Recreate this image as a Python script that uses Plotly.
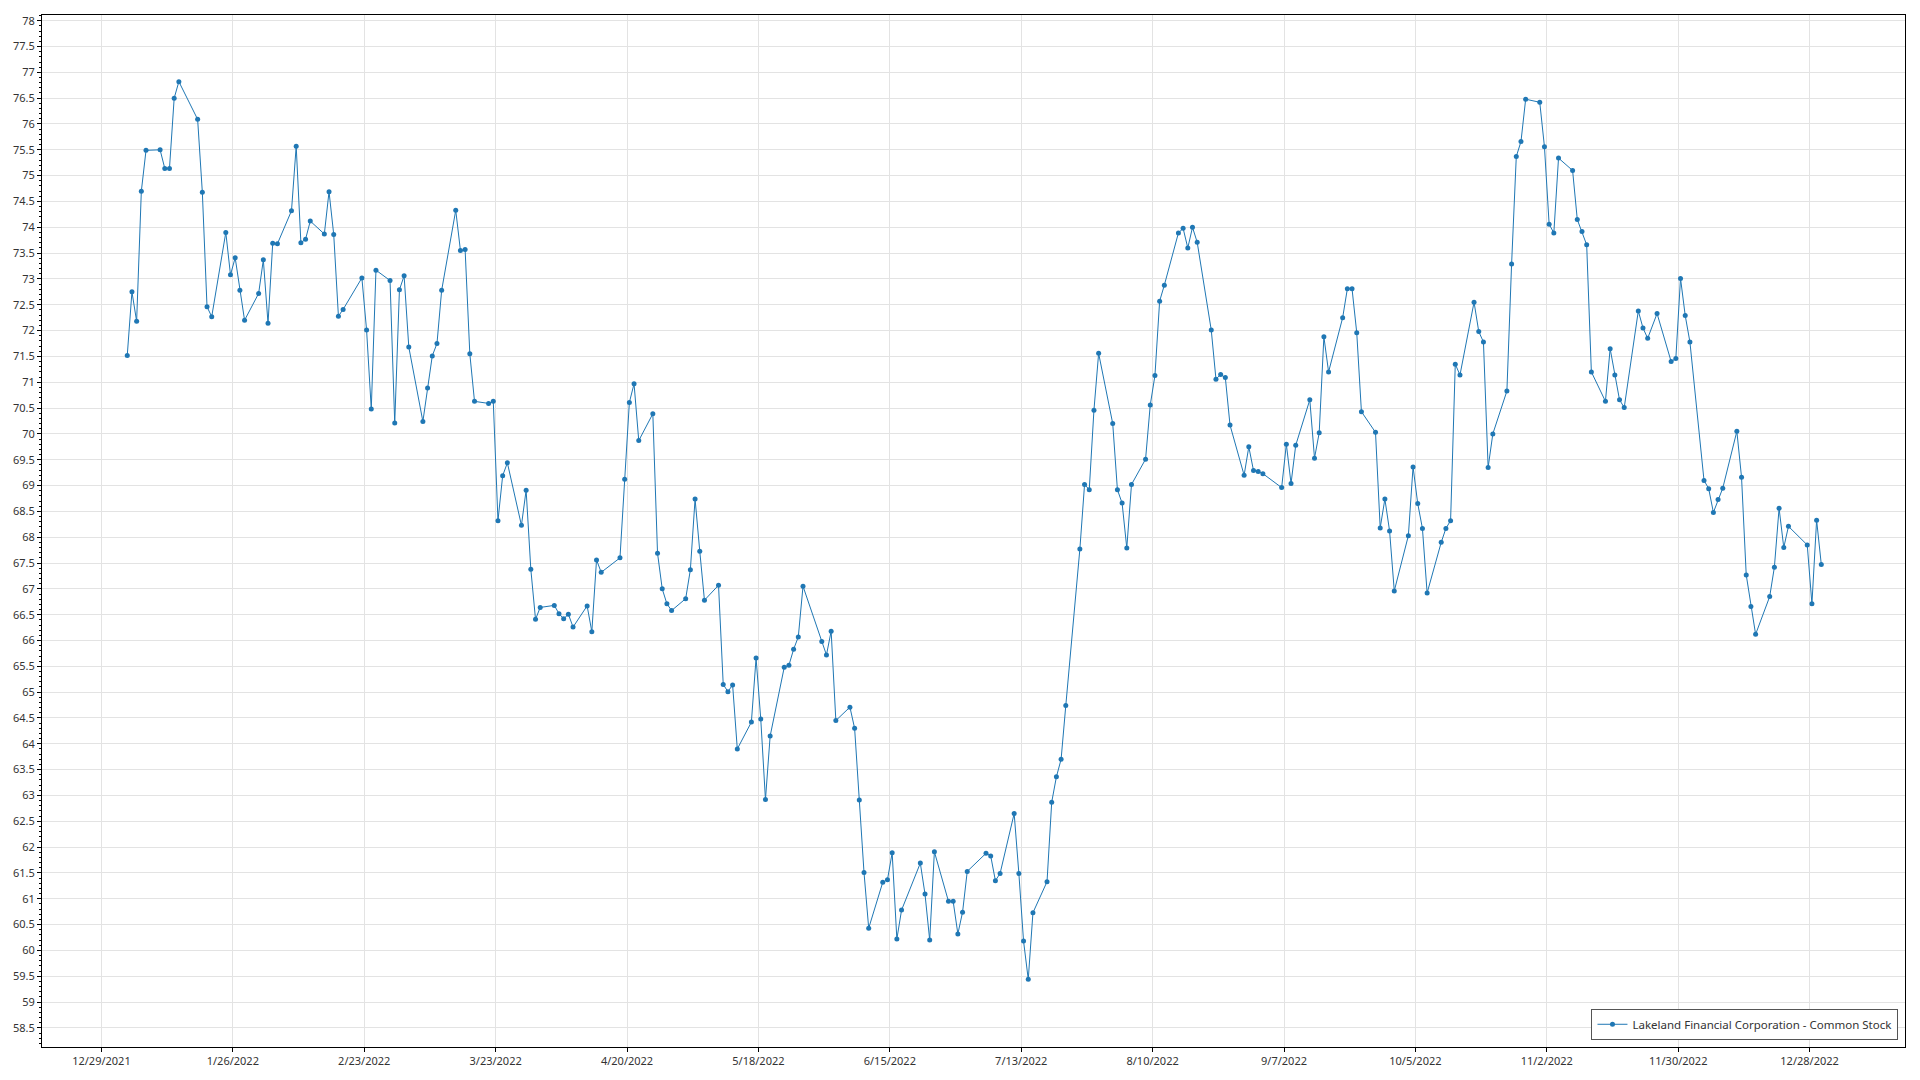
import plotly.graph_objects as go
import pandas as pd

series_name = "Lakeland Financial Corporation - Common Stock"

dates = [
    "2022-01-03","2022-01-04","2022-01-05","2022-01-06","2022-01-07",
    "2022-01-10","2022-01-11","2022-01-12","2022-01-13","2022-01-14",
    "2022-01-18","2022-01-19","2022-01-20","2022-01-21",
    "2022-01-24","2022-01-25","2022-01-26","2022-01-27","2022-01-28",
    "2022-01-31","2022-02-01","2022-02-02","2022-02-03","2022-02-04",
    "2022-02-07","2022-02-08","2022-02-09","2022-02-10","2022-02-11",
    "2022-02-14","2022-02-15","2022-02-16","2022-02-17","2022-02-18",
    "2022-02-22","2022-02-23","2022-02-24","2022-02-25",
    "2022-02-28","2022-03-01","2022-03-02","2022-03-03","2022-03-04",
    "2022-03-07","2022-03-08","2022-03-09","2022-03-10","2022-03-11",
    "2022-03-14","2022-03-15","2022-03-16","2022-03-17","2022-03-18",
    "2022-03-21","2022-03-22","2022-03-23","2022-03-24","2022-03-25",
    "2022-03-28","2022-03-29","2022-03-30","2022-03-31","2022-04-01",
    "2022-04-04","2022-04-05","2022-04-06","2022-04-07","2022-04-08",
    "2022-04-11","2022-04-12","2022-04-13","2022-04-14",
    "2022-04-18","2022-04-19","2022-04-20","2022-04-21","2022-04-22",
    "2022-04-25","2022-04-26","2022-04-27","2022-04-28","2022-04-29",
    "2022-05-02","2022-05-03","2022-05-04","2022-05-05","2022-05-06",
    "2022-05-09","2022-05-10","2022-05-11","2022-05-12","2022-05-13",
    "2022-05-16","2022-05-17","2022-05-18","2022-05-19","2022-05-20",
    "2022-05-23","2022-05-24","2022-05-25","2022-05-26","2022-05-27",
    "2022-05-31","2022-06-01","2022-06-02","2022-06-03",
    "2022-06-06","2022-06-07","2022-06-08","2022-06-09","2022-06-10",
    "2022-06-13","2022-06-14","2022-06-15","2022-06-16","2022-06-17",
    "2022-06-21","2022-06-22","2022-06-23","2022-06-24",
    "2022-06-27","2022-06-28","2022-06-29","2022-06-30","2022-07-01",
    "2022-07-05","2022-07-06","2022-07-07","2022-07-08",
    "2022-07-11","2022-07-12","2022-07-13","2022-07-14","2022-07-15",
    "2022-07-18","2022-07-19","2022-07-20","2022-07-21","2022-07-22",
    "2022-07-25","2022-07-26","2022-07-27","2022-07-28","2022-07-29",
    "2022-08-01","2022-08-02","2022-08-03","2022-08-04","2022-08-05",
    "2022-08-08","2022-08-09","2022-08-10","2022-08-11","2022-08-12",
    "2022-08-15","2022-08-16","2022-08-17","2022-08-18","2022-08-19",
    "2022-08-22","2022-08-23","2022-08-24","2022-08-25","2022-08-26",
    "2022-08-29","2022-08-30","2022-08-31","2022-09-01","2022-09-02",
    "2022-09-06","2022-09-07","2022-09-08","2022-09-09",
    "2022-09-12","2022-09-13","2022-09-14","2022-09-15","2022-09-16",
    "2022-09-19","2022-09-20","2022-09-21","2022-09-22","2022-09-23",
    "2022-09-26","2022-09-27","2022-09-28","2022-09-29","2022-09-30",
    "2022-10-03","2022-10-04","2022-10-05","2022-10-06","2022-10-07",
    "2022-10-10","2022-10-11","2022-10-12","2022-10-13","2022-10-14",
    "2022-10-17","2022-10-18","2022-10-19","2022-10-20","2022-10-21",
    "2022-10-24","2022-10-25","2022-10-26","2022-10-27","2022-10-28",
    "2022-10-31","2022-11-01","2022-11-02","2022-11-03","2022-11-04",
    "2022-11-07","2022-11-08","2022-11-09","2022-11-10","2022-11-11",
    "2022-11-14","2022-11-15","2022-11-16","2022-11-17","2022-11-18",
    "2022-11-21","2022-11-22","2022-11-23","2022-11-25",
    "2022-11-28","2022-11-29","2022-11-30","2022-12-01","2022-12-02",
    "2022-12-05","2022-12-06","2022-12-07","2022-12-08","2022-12-09",
    "2022-12-12","2022-12-13","2022-12-14","2022-12-15","2022-12-16",
    "2022-12-19","2022-12-20","2022-12-21","2022-12-22","2022-12-23",
    "2022-12-27","2022-12-28","2022-12-29","2022-12-30",
]

prices = [
    71.52,72.75,72.18,74.70,75.49,
    75.50,75.14,75.14,76.50,76.82,
    76.09,74.68,72.46,72.27,
    73.90,73.08,73.41,72.78,72.20,
    72.72,73.37,72.14,73.69,73.68,
    74.32,75.57,73.70,73.77,74.12,
    73.87,74.69,73.86,72.28,72.41,
    73.02,72.01,70.48,73.17,
    72.97,70.21,72.79,73.06,71.68,
    70.24,70.89,71.51,71.75,72.78,
    74.33,73.55,73.57,71.55,70.63,
    70.59,70.63,68.32,69.19,69.44,
    68.23,68.91,67.38,66.41,66.64,
    66.68,66.52,66.42,66.51,66.26,
    66.67,66.17,67.56,67.32,
    67.60,69.12,70.61,70.97,69.87,
    70.39,67.69,67.00,66.71,66.58,
    66.81,67.37,68.74,67.73,66.78,
    67.07,65.15,65.01,65.14,63.90,
    64.42,65.66,64.48,62.92,64.15,
    65.48,65.52,65.83,66.07,67.05,
    65.98,65.72,66.18,64.45,
    64.71,64.30,62.91,61.51,60.43,
    61.32,61.37,61.89,60.22,60.78,
    61.69,61.09,60.20,61.91,
    60.95,60.95,60.32,60.74,61.53,
    61.88,61.83,61.35,61.49,
    62.65,61.49,60.18,59.44,60.73,
    61.33,62.87,63.36,63.70,64.74,
    67.77,69.02,68.92,70.46,71.56,
    70.20,68.92,68.66,67.79,69.02,
    69.51,70.56,71.13,72.57,72.88,
    73.89,73.98,73.60,74.00,73.71,
    72.01,71.06,71.15,71.09,70.17,
    69.20,69.75,69.29,69.27,69.23,
    68.96,69.80,69.04,69.78,
    70.66,69.53,70.02,71.88,71.20,
    72.25,72.81,72.81,71.96,70.43,
    70.03,68.18,68.74,68.12,66.96,
    68.03,69.36,68.65,68.17,66.92,
    67.90,68.17,68.32,71.35,71.14,
    72.55,71.98,71.78,69.35,70.00,
    70.83,73.29,75.37,75.66,76.48,
    76.42,75.56,74.06,73.89,75.34,
    75.10,74.15,73.92,73.66,71.20,
    70.63,71.65,71.14,70.66,70.51,
    72.38,72.05,71.85,72.33,
    71.40,71.46,73.01,72.29,71.78,
    69.10,68.94,68.48,68.73,68.95,
    70.05,69.16,67.27,66.66,66.12,
    66.85,67.42,68.56,67.80,68.21,
    67.85,66.71,68.33,67.47,
]

assert len(dates) == len(prices)

# points sit mid-day in the reference
x_vals = pd.to_datetime(dates) + pd.Timedelta(hours=12)

line_color = "#1f77b4"
font_family = "Noto Sans, Open Sans, sans-serif"
text_color = "#333333"
grid_color = "#e3e3e3"

fig = go.Figure()
fig.add_trace(go.Scatter(
    x=x_vals, y=prices, mode="lines+markers", name=series_name,
    line=dict(color=line_color, width=1),
    marker=dict(color=line_color, size=5),
    showlegend=True,
))

fig.update_layout(
    width=1920, height=1080,
    margin=dict(l=42, r=15, t=15, b=30),
    paper_bgcolor="white", plot_bgcolor="white",
    font=dict(family=font_family, size=11, color=text_color),
    showlegend=True,
    legend=dict(
        x=0.9965, y=0.007, xanchor="right", yanchor="bottom",
        bgcolor="white", bordercolor="#555555", borderwidth=1,
        font=dict(size=11.5, color=text_color),
    ),
    xaxis=dict(
        type="date",
        range=["2021-12-16 08:00", "2023-01-17 08:00"],
        tick0="2021-12-29", dtick=28 * 86400000,
        tickformat="%-m/%-d/%Y",
        showgrid=True, gridcolor=grid_color, gridwidth=1,
        showline=True, linecolor="black", linewidth=1, mirror=True,
        ticks="outside", ticklen=4, tickcolor="black",
        zeroline=False,
    ),
    yaxis=dict(
        range=[58.13, 78.11],
        tick0=58.5, dtick=0.5,
        showgrid=True, gridcolor=grid_color, gridwidth=1,
        showline=True, linecolor="black", linewidth=1, mirror=True,
        ticks="outside", ticklen=4, tickcolor="black",
        minor=dict(dtick=0.1, ticks="outside", ticklen=2, tickcolor="black", showgrid=False),
        zeroline=False,
    ),
)

fig.write_html(
    "out.html",
    config={"displayModeBar": False},
    post_script="document.body.style.margin='0';document.body.style.overflow='hidden';",
)
